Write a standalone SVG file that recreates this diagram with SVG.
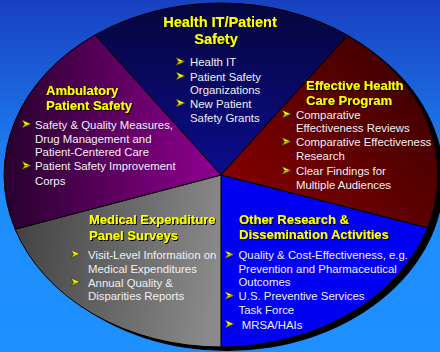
<svg xmlns="http://www.w3.org/2000/svg" width="440" height="352" viewBox="0 0 440 352">
<defs>
<linearGradient id="bg" x1="0" y1="0" x2="0" y2="352" gradientUnits="userSpaceOnUse">
<stop offset="0" stop-color="#1840c0"/>
<stop offset="0.55" stop-color="#1e8cfc"/>
<stop offset="1" stop-color="#1e90ff"/>
</linearGradient>
<linearGradient id="gHit" x1="0" y1="0" x2="0" y2="175" gradientUnits="userSpaceOnUse">
<stop offset="0" stop-color="#05053c"/>
<stop offset="1" stop-color="#0c0c8c"/>
</linearGradient>
<linearGradient id="gAmb" x1="10" y1="0" x2="205" y2="0" gradientUnits="userSpaceOnUse">
<stop offset="0" stop-color="#2a0030"/>
<stop offset="1" stop-color="#8a008a"/>
</linearGradient>
<linearGradient id="gEff" x1="240" y1="220" x2="420" y2="60" gradientUnits="userSpaceOnUse">
<stop offset="0" stop-color="#880000"/>
<stop offset="1" stop-color="#3c0000"/>
</linearGradient>
<linearGradient id="gMed" x1="20" y1="230" x2="220" y2="260" gradientUnits="userSpaceOnUse">
<stop offset="0" stop-color="#444444"/>
<stop offset="1" stop-color="#8a8a8a"/>
</linearGradient>
<filter id="sh" x="-10%" y="-30%" width="120%" height="160%">
<feOffset in="SourceAlpha" dx="1" dy="1" result="o"/>
<feFlood flood-color="#000000"/>
<feComposite in2="o" operator="in" result="s"/>
<feMerge><feMergeNode in="s"/><feMergeNode in="SourceGraphic"/></feMerge>
</filter>
<g id="arr">
<path d="M0,0 L9,4 L2.5,4 Z" fill="#ffff00"/>
<path d="M2.5,4 L9,4 L0,8 Z" fill="#c8c800"/>
<path d="M0,0 L9,4 L0,8 L2.5,4 Z" fill="none" stroke="#303000" stroke-width="0.6" stroke-linejoin="round"/>
</g>
</defs>
<style>
.sec{stroke:#000;stroke-width:1;stroke-linejoin:round}
.t{font-family:"Liberation Sans",Arial,sans-serif;font-weight:bold;font-size:13px;fill:#ffff00;filter:url(#sh)}
.b{font-family:"Liberation Sans",Arial,sans-serif;font-size:11.4px;fill:#f0f0f4}
</style>
<rect width="440" height="352" fill="url(#bg)"/>
<ellipse cx="227" cy="179" rx="217" ry="172" fill="#000"/>
<g id="sectors">
<path id="s-hit" class="sec" d="M221,175 L95,35 A217,172 0 0,1 347.7,35.35 Z" fill="url(#gHit)"/>
<path id="s-eff" class="sec" d="M221,175 L347.7,35.35 A217,172 0 0,1 427.5,227.9 Z" fill="url(#gEff)"/>
<path id="s-oth" class="sec" d="M221,175 L427.5,227.9 A217,172 0 0,1 221,347 Z" fill="#0000f2"/>
<path id="s-med" class="sec" d="M221,175 L221,347 A217,172 0 0,1 15.1,229.2 Z" fill="url(#gMed)"/>
<path id="s-amb" class="sec" d="M221,175 L15.1,229.2 A217,172 0 0,1 95,35 Z" fill="url(#gAmb)"/>
</g>
<g id="health-it">
<text class="t" x="220" y="27" text-anchor="middle" style="font-size:14.5px">Health IT/Patient</text>
<text class="t" x="216" y="44" text-anchor="middle" style="font-size:14.5px">Safety</text>
<use href="#arr" x="176" y="57.5"/>
<text class="b" x="190" y="66">Health IT</text>
<use href="#arr" x="176" y="72"/>
<text class="b" x="190" y="80.5">Patient Safety</text>
<text class="b" x="190" y="94">Organizations</text>
<use href="#arr" x="176" y="99"/>
<text class="b" x="190" y="107.5">New Patient</text>
<text class="b" x="190" y="121.5">Safety Grants</text>
</g>
<g id="ambulatory">
<text class="t" x="46" y="95">Ambulatory</text>
<text class="t" x="46" y="110">Patient Safety</text>
<use href="#arr" x="22" y="120"/>
<text class="b" x="35" y="128.5">Safety &amp; Quality Measures,</text>
<text class="b" x="35" y="142.5">Drug Management and</text>
<text class="b" x="35" y="156">Patient-Centered Care</text>
<use href="#arr" x="22" y="161.5"/>
<text class="b" x="35" y="170">Patient Safety Improvement</text>
<text class="b" x="35" y="184.5">Corps</text>
</g>
<g id="effective">
<text class="t" x="306" y="89.5">Effective Health</text>
<text class="t" x="306" y="105">Care Program</text>
<use href="#arr" x="282" y="110"/>
<text class="b" x="296" y="118.5">Comparative</text>
<text class="b" x="296" y="132">Effectiveness Reviews</text>
<use href="#arr" x="282" y="137.5"/>
<text class="b" x="296" y="146">Comparative Effectiveness</text>
<text class="b" x="296" y="160">Research</text>
<use href="#arr" x="282" y="166.5"/>
<text class="b" x="296" y="175">Clear Findings for</text>
<text class="b" x="296" y="189">Multiple Audiences</text>
</g>
<g id="medical">
<text class="t" x="89" y="224.3">Medical Expenditure</text>
<text class="t" x="89" y="239.5">Panel Surveys</text>
<use href="#arr" x="71" y="250"/>
<text class="b" x="88" y="258.5">Visit-Level Information on</text>
<text class="b" x="88" y="272.5">Medical Expenditures</text>
<use href="#arr" x="71" y="278"/>
<text class="b" x="88" y="286.5">Annual Quality &amp;</text>
<text class="b" x="88" y="300">Disparities Reports</text>
</g>
<g id="other">
<text class="t" x="239" y="224.3">Other Research &amp;</text>
<text class="t" x="239" y="239.3">Dissemination Activities</text>
<use href="#arr" x="225" y="250.5"/>
<text class="b" x="238.5" y="259">Quality &amp; Cost-Effectiveness, e.g.</text>
<text class="b" x="238.5" y="272.7">Prevention and Pharmaceutical</text>
<text class="b" x="238.5" y="286">Outcomes</text>
<use href="#arr" x="225" y="291.5"/>
<text class="b" x="238.5" y="300">U.S. Preventive Services</text>
<text class="b" x="238.5" y="314">Task Force</text>
<use href="#arr" x="225" y="320"/>
<text class="b" x="241.7" y="328.5">MRSA/HAIs</text>
</g>
</svg>
